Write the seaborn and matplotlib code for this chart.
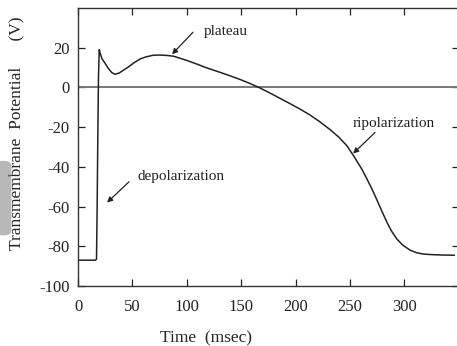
import matplotlib
matplotlib.use("Agg")
import matplotlib.pyplot as plt
import seaborn as sns
import pandas as pd
from matplotlib.patches import FancyBboxPatch

# Action potential trace
time_ms = [0, 16, 17, 17.6, 18.2, 18.8, 19.5, 20.5, 22, 24.8,
           28, 31, 34, 38, 42, 46, 52, 57, 62, 69,
           75, 82, 88, 100, 110, 118, 130, 140, 149, 158,
           167, 176, 186, 195, 204, 213, 222, 232, 240, 247,
           253, 256, 261, 265, 270, 274.5, 279, 284, 288, 293,
           298, 305, 311, 317, 325, 335, 346]
potential = [-87, -87, -86.5, -60, -25, 5, 19, 17, 14.5, 12.2,
             9.5, 7.5, 6.6, 7.3, 8.8, 10.2, 12.6, 14.3, 15.3, 16.2,
             16.3, 16.1, 15.7, 13.6, 11.6, 9.9, 7.7, 5.8, 4.0, 2.0,
             -0.2, -2.7, -5.6, -8.2, -10.9, -13.8, -17.2, -21.4, -25.2, -29.3,
             -34.2, -36.8, -41.3, -45.5, -51, -56.4, -62, -68, -72.2, -76.3,
             -79.2, -81.9, -83.2, -83.9, -84.2, -84.4, -84.5]

x_ticks = [0, 50, 100, 150, 200, 250, 300]
y_ticks = [-100, -80, -60, -40, -20, 0, 20]

labels = ["plateau", "depolarization", "ripolarization"]
label_pos = [(116, 28), (55, -45), (252, -18)]
arrow_from = [(105.7, 27.8), (46.9, -47.5), (273, -22.7)]
arrow_to = [(86.4, 16.7), (26.7, -58), (252.8, -33.3)]

df = pd.DataFrame({"t": time_ms, "v": potential})

sns.set_style("ticks")
plt.rcParams['font.family'] = ['Liberation Serif', 'DejaVu Serif']
plt.rcParams['axes.unicode_minus'] = False

fig = plt.figure(figsize=(4.57, 3.46), dpi=100)
ax = fig.add_axes([0.1707, 0.1734, 0.8333, 0.8035])

ax.axhline(0, color="#777777", lw=1.4, zorder=1)
sns.lineplot(data=df, x="t", y="v", sort=False, color="#222222", lw=1.1,
             solid_joinstyle="round", ax=ax, zorder=2)

ax.set_xlim(0, 350)
ax.set_ylim(-100, 40)
ax.set_xticks(x_ticks)
ax.set_yticks(y_ticks)
ax.tick_params(direction="in", length=5, width=0.9, top=True, right=True,
               labelsize=12, colors="#222222", pad=6)
ax.tick_params(axis="x", pad=9)
for s in ax.spines.values():
    s.set_color("#333333")
    s.set_linewidth(1.0)

ax.set_xlabel("Time  (msec)", fontsize=12.5)
ax.xaxis.set_label_coords(0.336, -0.16)
ax.set_ylabel("Transmembrane  Potential      (V)", fontsize=12.5)
ax.yaxis.set_label_coords(-0.142, 0.549)

for txt, pos, a, b in zip(labels, label_pos, arrow_from, arrow_to):
    ax.text(pos[0], pos[1], txt, fontsize=11, va="center", ha="left", color="#222222")
    ax.annotate("", xy=b, xytext=a,
                arrowprops=dict(arrowstyle="-|>", color="#222222", lw=0.9,
                                mutation_scale=8, shrinkA=0, shrinkB=0))

# grey smudge at the left edge of the original scan
fig.patches.append(FancyBboxPatch((-0.02, 0.32), 0.045, 0.215,
                                  boxstyle="round,pad=0.0,rounding_size=0.015",
                                  transform=fig.transFigure, facecolor="#8a8a8a",
                                  edgecolor="none", alpha=0.6, zorder=0))

fig.savefig("out.png", dpi=100)
